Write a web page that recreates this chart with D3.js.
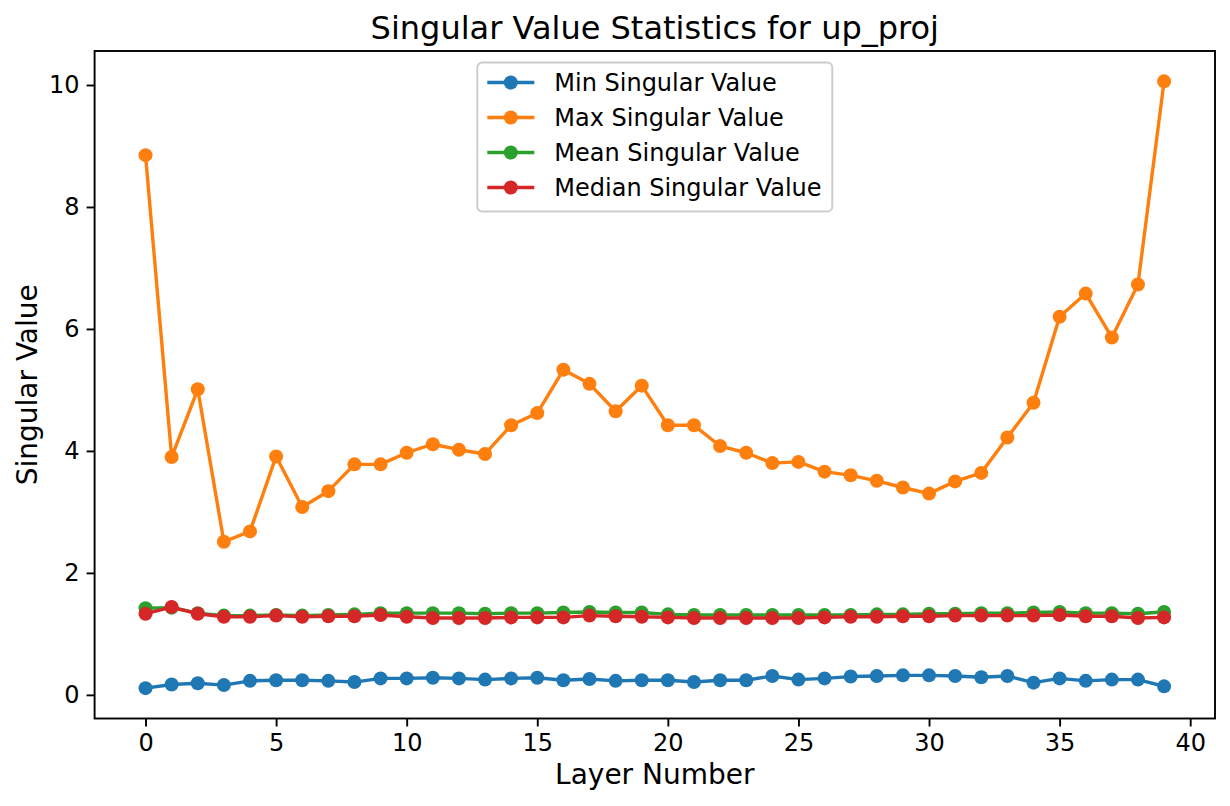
<!DOCTYPE html>
<html>
<head>
<meta charset="utf-8">
<script src="https://cdn.jsdelivr.net/npm/d3@7"></script>
<style>
  body { margin: 0; background: #fff; }
  text { font-family: "DejaVu Sans", sans-serif; fill: #000; }
</style>
</head>
<body>
<div id="wrapper"></div>
<script>
// layer index on the x axis
var layers = [0, 1, 2, 3, 4, 5, 6, 7, 8, 9, 10, 11, 12, 13, 14, 15, 16, 17, 18, 19,
              20, 21, 22, 23, 24, 25, 26, 27, 28, 29, 30, 31, 32, 33, 34, 35, 36, 37, 38, 39];

var minVals = [0.11, 0.17, 0.19, 0.16, 0.23, 0.24, 0.24, 0.23, 0.21, 0.27,
               0.27, 0.28, 0.27, 0.25, 0.27, 0.28, 0.24, 0.26, 0.23, 0.24,
               0.24, 0.21, 0.24, 0.24, 0.31, 0.25, 0.27, 0.30, 0.31, 0.32,
               0.32, 0.31, 0.29, 0.31, 0.20, 0.27, 0.23, 0.25, 0.25, 0.14];

var maxVals = [8.85, 3.90, 5.01, 2.51, 2.68, 3.91, 3.08, 3.34, 3.78, 3.78,
               3.97, 4.11, 4.02, 3.95, 4.42, 4.62, 5.33, 5.10, 4.65, 5.07,
               4.42, 4.42, 4.08, 3.97, 3.80, 3.82, 3.66, 3.60, 3.51, 3.40,
               3.30, 3.50, 3.64, 4.22, 4.79, 6.20, 6.58, 5.86, 6.73, 10.06];

var meanVals = [1.42, 1.43, 1.34, 1.30, 1.30, 1.31, 1.30, 1.31, 1.32, 1.34,
                1.34, 1.34, 1.34, 1.33, 1.34, 1.34, 1.35, 1.36, 1.35, 1.35,
                1.32, 1.31, 1.31, 1.31, 1.31, 1.31, 1.31, 1.31, 1.32, 1.32,
                1.33, 1.33, 1.34, 1.34, 1.35, 1.36, 1.34, 1.34, 1.33, 1.36];

var medianVals = [1.33, 1.44, 1.33, 1.28, 1.28, 1.30, 1.28, 1.29, 1.29, 1.31,
                  1.28, 1.26, 1.26, 1.26, 1.27, 1.27, 1.27, 1.30, 1.29, 1.28,
                  1.27, 1.26, 1.26, 1.26, 1.26, 1.26, 1.27, 1.28, 1.28, 1.29,
                  1.29, 1.30, 1.30, 1.30, 1.30, 1.31, 1.29, 1.29, 1.26, 1.27];

var seriesNames = ["Min Singular Value", "Max Singular Value", "Mean Singular Value", "Median Singular Value"];
var seriesColors = ["#1f77b4", "#ff7f0e", "#2ca02c", "#d62728"];
var xTicks = [0, 5, 10, 15, 20, 25, 30, 35, 40];
var yTicks = [0, 2, 4, 6, 8, 10];

var series = [minVals, maxVals, meanVals, medianVals].map(function (vals, i) {
  return {
    name: seriesNames[i],
    color: seriesColors[i],
    values: vals.map(function (v, j) { return {layer: layers[j], value: v}; })
  };
});

// set the dimensions and margins of the graph
var W = 1230, H = 806;
var margin = {top: 51, right: 15, bottom: 87.5, left: 94.6},
    width = W - margin.left - margin.right,
    height = H - margin.top - margin.bottom;

var svg = d3.select("#wrapper").append("svg")
    .attr("width", W)
    .attr("height", H);

var g = svg.append("g")
    .attr("transform", "translate(" + margin.left + "," + margin.top + ")");

// matplotlib style 5% margins on both axes
var xExt = d3.extent(layers);
var xPad = (xExt[1] - xExt[0]) * 0.05;
var allVals = [].concat(minVals, maxVals, meanVals, medianVals);
var yExt = d3.extent(allVals);
var yPad = (yExt[1] - yExt[0]) * 0.05;

var x = d3.scaleLinear()
    .domain([xExt[0] - xPad, xExt[1] + xPad])
    .range([0, width]);

var y = d3.scaleLinear()
    .domain([yExt[0] - yPad, yExt[1] + yPad])
    .range([height, 0]);

var line = d3.line()
    .x(function (d) { return x(d.layer); })
    .y(function (d) { return y(d.value); });

// lines + markers, drawn in series order
series.forEach(function (s) {
  var sg = g.append("g");
  sg.append("path")
      .datum(s.values)
      .attr("fill", "none")
      .attr("stroke", s.color)
      .attr("stroke-width", 3.4)
      .attr("stroke-linejoin", "round")
      .attr("stroke-linecap", "square")
      .attr("d", line);
  sg.selectAll("circle")
      .data(s.values)
    .enter().append("circle")
      .attr("cx", function (d) { return x(d.layer); })
      .attr("cy", function (d) { return y(d.value); })
      .attr("r", 7)
      .attr("fill", s.color);
});

// add the x Axis
var xAxis = g.append("g")
    .attr("transform", "translate(0," + height + ")")
    .call(d3.axisBottom(x).tickValues(xTicks).tickSize(8).tickPadding(7).tickFormat(d3.format("d")));

// add the y Axis
var yAxis = g.append("g")
    .call(d3.axisLeft(y).tickValues(yTicks).tickSize(8).tickPadding(7).tickFormat(d3.format("d")));

[xAxis, yAxis].forEach(function (a) {
  a.select(".domain").remove();
  a.selectAll(".tick line").attr("stroke", "#000").attr("stroke-width", 1.9);
  a.selectAll(".tick text").style("font-size", "24px").attr("fill", "#000");
});

// frame
g.append("rect")
    .attr("width", width)
    .attr("height", height)
    .attr("fill", "none")
    .attr("stroke", "#000")
    .attr("stroke-width", 1.9);

// axis labels
svg.append("text")
    .attr("x", margin.left + width / 2)
    .attr("y", 784)
    .attr("text-anchor", "middle")
    .style("font-size", "28px")
    .text("Layer Number");

svg.append("text")
    .attr("transform", "translate(37," + (margin.top + height / 2) + ") rotate(-90)")
    .attr("text-anchor", "middle")
    .style("font-size", "28px")
    .text("Singular Value");

// title
svg.append("text")
    .attr("x", margin.left + width / 2)
    .attr("y", 39)
    .attr("text-anchor", "middle")
    .style("font-size", "32px")
    .text("Singular Value Statistics for up_proj");

// legend, upper center
var legW = 355, legH = 149, rowH = 35;
var leg = g.append("g")
    .attr("transform", "translate(" + (width / 2 - legW / 2) + "," + 11.5 + ")");

leg.append("rect")
    .attr("width", legW)
    .attr("height", legH)
    .attr("rx", 5)
    .attr("fill", "#fff")
    .attr("fill-opacity", 0.8)
    .attr("stroke", "#cccccc")
    .attr("stroke-width", 1.9);

series.forEach(function (s, i) {
  var cy = 20 + i * rowH;
  leg.append("line")
      .attr("x1", 10).attr("x2", 57)
      .attr("y1", cy).attr("y2", cy)
      .attr("stroke", s.color)
      .attr("stroke-width", 3.4);
  leg.append("circle")
      .attr("cx", 33.5).attr("cy", cy)
      .attr("r", 7)
      .attr("fill", s.color);
  leg.append("text")
      .attr("x", 77)
      .attr("y", cy + 8.5)
      .style("font-size", "24px")
      .text(s.name);
});
</script>
</body>
</html>
